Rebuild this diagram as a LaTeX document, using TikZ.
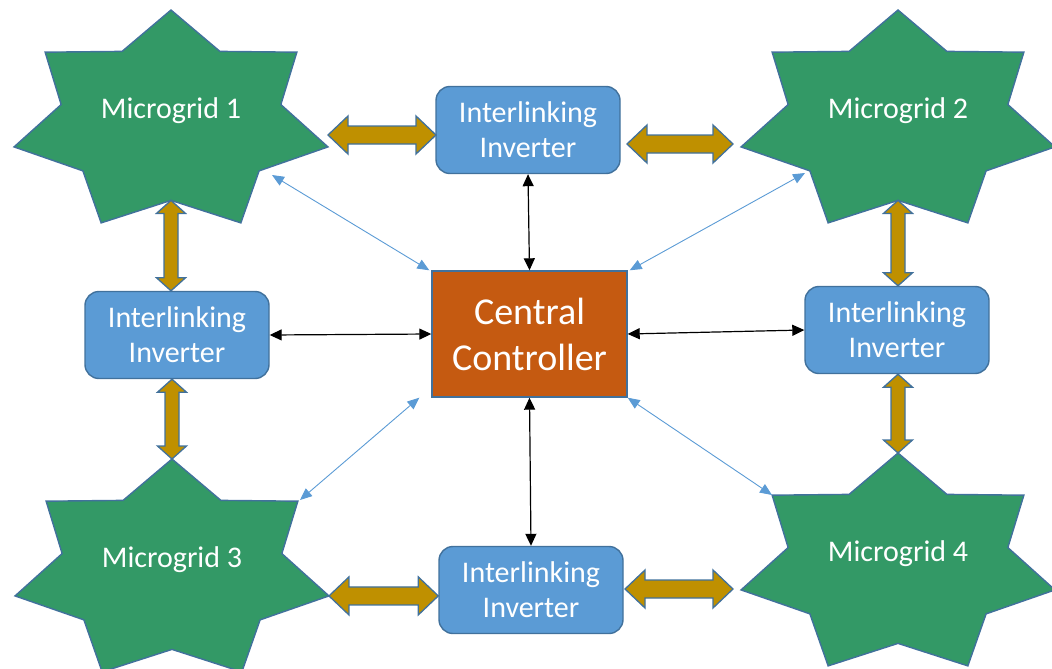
\documentclass[tikz,border=0pt]{standalone}
\usepackage{fontspec}
\setmainfont{Carlito}
\usetikzlibrary{arrows.meta,calc}
\definecolor{mggreen}{RGB}{51,153,102}
\definecolor{ilblue}{RGB}{91,155,213}
\definecolor{edgeblue}{RGB}{65,113,156}
\definecolor{ccorange}{RGB}{197,90,17}
\definecolor{fatgold}{RGB}{191,144,0}
\begin{document}
\begin{tikzpicture}[x=1pt,y=-1pt,line width=1.4pt,
  mgstar/.style={draw=edgeblue,fill=mggreen,line join=miter},
  mglabel/.style={text=white,font=\fontsize{30}{36}\selectfont},
  ilbox/.style={draw=edgeblue,fill=ilblue,rounded corners=14pt,minimum width=184pt,
    minimum height=87pt,inner sep=0pt,align=center,text=white,font=\fontsize{30}{35}\selectfont},
  ccbox/.style={draw=edgeblue,fill=ccorange,minimum width=195pt,minimum height=126pt,
    inner sep=0pt,align=center,text=white,font=\fontsize{38}{46}\selectfont},
  ctl/.style={{Triangle[length=12pt,width=11pt]}-{Triangle[length=12pt,width=11pt]},line width=1.2pt,black},
  sig/.style={{Triangle[length=12pt,width=10pt]}-{Triangle[length=12pt,width=10pt]},line width=0.9pt,ilblue},
  fat/.style n args={3}{draw=edgeblue,fill=fatgold,line width=1.3pt,line join=miter,
    to path={
      -- ($(\tikztostart)!#1!(\tikztotarget)!#2!90:(\tikztotarget)$)
      -- ($(\tikztostart)!#1!(\tikztotarget)!#3!90:(\tikztotarget)$)
      -- ($(\tikztotarget)!#1!(\tikztostart)!#3!-90:(\tikztostart)$)
      -- ($(\tikztotarget)!#1!(\tikztostart)!#2!-90:(\tikztostart)$)
      -- (\tikztotarget)
      -- ($(\tikztotarget)!#1!(\tikztostart)!#2!90:(\tikztostart)$)
      -- ($(\tikztotarget)!#1!(\tikztostart)!#3!90:(\tikztostart)$)
      -- ($(\tikztostart)!#1!(\tikztotarget)!#3!-90:(\tikztotarget)$)
      -- ($(\tikztostart)!#1!(\tikztotarget)!#2!-90:(\tikztotarget)$)
      -- cycle}},
  fath/.style={fat={20pt}{19pt}{9pt}},
  fatv/.style={fat={13pt}{14.5pt}{7pt}}]
\useasboundingbox (0,0) rectangle (1052,669);
\clip (0,0) rectangle (1052,669);
% 7-point star: name, x, y, text
\newcommand{\microgrid}[4]{
  \coordinate (#1) at (#2,#3);
  \begin{scope}[shift={(#1)},x=161pt,y=112pt]
    \draw[mgstar] (90:1) \foreach \i in {1,...,13}{ -- ({90-\i*180/7}:{1-0.3*mod(\i,2)}) } -- cycle;
    \coordinate (#1-n) at (90:1);
    \coordinate (#1-s) at (-90:0.7);
    \coordinate (#1-e) at (-12.857:1);
  \end{scope}
  \node[mglabel] (#1-t) at ($(#1)+(0,-11)$) {#4};}
% ---------- microgrids ----------
\microgrid{m1}{171}{122}{Microgrid 1}
\microgrid{m2}{898}{122}{Microgrid 2}
\microgrid{m3}{172}{571}{Microgrid 3}
\microgrid{m4}{898}{565}{Microgrid 4}
% ---------- inverters and controller ----------
\node[ilbox] (ilT) at (528,130) {Interlinking\\Inverter};
\node[ilbox] (ilL) at (177,335) {Interlinking\\Inverter};
\node[ilbox] (ilR) at (897,330) {Interlinking\\Inverter};
\node[ilbox] (ilB) at (531,590) {Interlinking\\Inverter};
\node[ccbox] (cc) at (529.5,334) {Central\\Controller};
% ---------- power links ----------
\coordinate (g1a) at (328,135); \coordinate (g1b) at (436,135);
\coordinate (g2a) at (627,144); \coordinate (g2b) at (733,144);
\coordinate (g3b) at (m1-s |- ilL.north);
\coordinate (g4a) at (m3-n |- ilL.south);
\coordinate (g5b) at (m2-s |- ilR.north);
\coordinate (g6a) at (m4-n |- ilR.south);
\coordinate (g7b) at (ilB.west |- m3-e);
\coordinate (g8a) at (625,589); \coordinate (g8b) at (733,589);
\draw[fath] (g1a) to (g1b);
\draw[fath] (g2a) to (g2b);
\draw[fatv] (m1-s) to (g3b);
\draw[fatv] (g4a) to (m3-n);
\draw[fatv] (m2-s) to (g5b);
\draw[fatv] (g6a) to (m4-n);
\draw[fath] (m3-e) to (g7b);
\draw[fath] (g8a) to (g8b);
% ---------- control links ----------
\draw[ctl] (ilT.south) -- (cc.north);
\draw[ctl] (ilL.east) -- (cc.west);
\draw[ctl] (cc.east) -- (ilR.west);
\draw[ctl] (cc.south) -- (ilB.north);
% ---------- signal links ----------
\coordinate (s1) at (272,175);
\coordinate (s2) at (805,173);
\coordinate (s3) at (300,500);
\coordinate (s4) at (772,495);
\draw[sig] (s1) -- ([xshift=-2pt]cc.north west);
\draw[sig] ([xshift=2pt]cc.north east) -- (s2);
\draw[sig] (s3) -- ([xshift=-12pt]cc.south west);
\draw[sig] (cc.south east) -- (s4);
\end{tikzpicture}
\end{document}
